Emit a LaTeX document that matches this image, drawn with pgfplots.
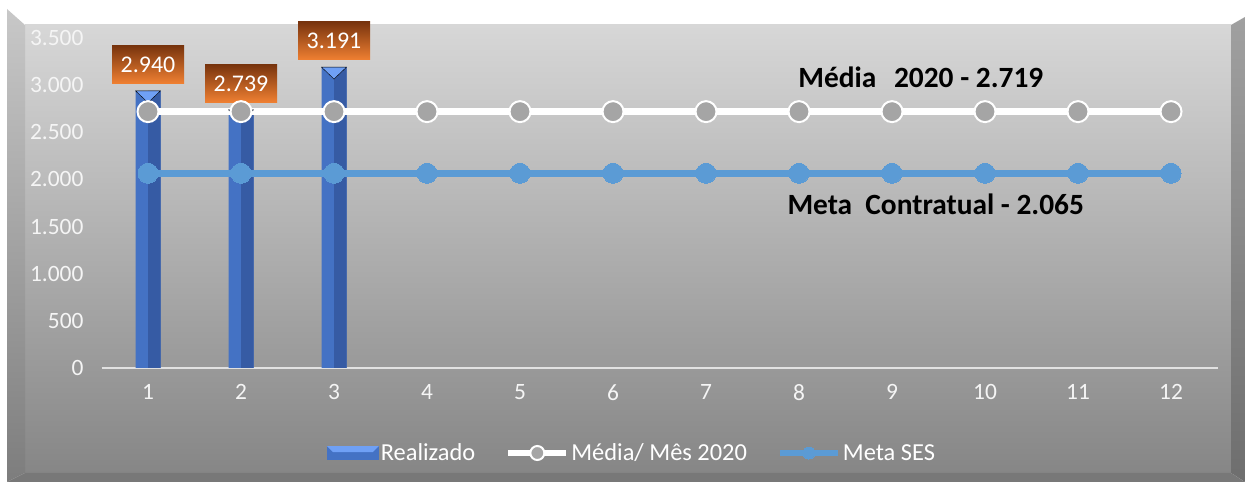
\documentclass[border=0pt]{standalone}
\usepackage{pgfplots}
\pgfplotsset{compat=1.18}
\usepackage{fontspec}
\setmainfont{Carlito}
\usetikzlibrary{shadings}
\definecolor{barL}{RGB}{68,114,196}
\definecolor{barR}{RGB}{54,91,164}
\definecolor{barTop}{RGB}{111,160,245}
\definecolor{metaC}{RGB}{91,155,213}
\definecolor{mediaM}{RGB}{165,165,165}
\definecolor{wallTop}{RGB}{215,215,215}
\definecolor{wallBot}{RGB}{134,134,134}
\definecolor{lwTop}{RGB}{200,200,200}
\definecolor{lwBot}{RGB}{125,125,125}
\definecolor{rwTop}{RGB}{160,160,160}
\definecolor{rwBot}{RGB}{110,110,110}
\definecolor{floorC}{RGB}{120,120,120}
\definecolor{orTop}{RGB}{120,52,14}
\definecolor{orMid}{RGB}{212,104,38}
\definecolor{orBot}{RGB}{240,128,50}
\definecolor{axisC}{RGB}{225,225,225}
\pgfplotsset{
  barlegend/.style={legend image code/.code={
    \fill[barL] (0bp,-7bp) rectangle (52bp,7bp);
    \fill[barTop] (0bp,7bp) -- (52bp,7bp) -- (46bp,1bp) -- (6bp,1bp) -- cycle;}},
  medialegend/.style={legend image code/.code={
    \draw[##1, mark size=7bp, line width=6bp, mark repeat=2, mark phase=2] plot coordinates {(0bp,0bp) (29bp,0bp) (58bp,0bp)};}},
  metalegend/.style={legend image code/.code={
    \draw[##1, mark size=6bp, line width=6bp, mark repeat=2, mark phase=2] plot coordinates {(0bp,0bp) (29bp,0bp) (58bp,0bp)};}},
}
\begin{document}
\begin{tikzpicture}[x=1bp,y=1bp]
% background 3D panel
\shade[top color=wallTop, bottom color=wallBot] (25,9) rectangle (1231,457);
\shade[top color=lwTop, bottom color=lwBot] (7,0) -- (7,473) -- (25,457) -- (25,9) -- cycle;
\shade[top color=rwTop, bottom color=rwBot] (1231,9) -- (1231,457) -- (1245,465) -- (1245,0) -- cycle;
\fill[floorC] (7,0) -- (25,9) -- (1231,9) -- (1245,0) -- cycle;
\begin{axis}[
  at={(101.5bp,114bp)}, anchor=south west,
  scale only axis, width=1116bp, height=330bp,
  xmin=0.5, xmax=12.5, ymin=0, ymax=3500,
  clip=false,
  axis lines*=left,
  y axis line style={draw=none},
  x axis line style={draw=axisC, line width=1.5bp, -},
  xtick={1,...,12},
  xtick style={draw=none},
  extra x ticks={0.5,1.5,...,12.5},
  extra x tick labels={},
  extra x tick style={tick align=outside, major tick length=6bp, tick style={draw=axisC, line width=1.5bp}},
  ytick={0,500,...,3500},
  ytick style={draw=none},
  scaled y ticks=false,
  /pgf/number format/.cd, 1000 sep={.}, assume math mode=true,
  /pgfplots/.cd,
  ticklabel style={font=\fontsize{23.5}{27}\selectfont, text={rgb,255:red,245;green,245;blue,245}},
  xticklabel style={yshift=-13bp},
  yticklabel style={xshift=-14.5bp},
  legend style={draw=none, fill=none, at={(axis description cs:0.4753,-0.2576)}, anchor=center,
    legend columns=3, font=\fontsize{24.5}{28}\selectfont, text=white,
    /tikz/every even column/.append style={column sep=28bp}},
  legend cell align=left,
]
\addplot[ybar, bar width=25bp, bar shift=0pt, fill=barL, draw=none,
  point meta=explicit symbolic, nodes near coords,
  every node near coord/.append style={anchor=south, yshift=7bp, text=white,
    font=\fontsize{24}{28}\selectfont, minimum width=72bp, minimum height=38bp, inner sep=0pt,
    top color=orTop, middle color=orMid, bottom color=orBot},
  barlegend
  ] coordinates {(1,2940) [2.940] (2,2739) [2.739] (3,3191) [3.191]};
\addlegendentry{Realizado}
\addplot[ybar, bar width=12.5bp, bar shift=6.25bp, fill=barR, draw=none, forget plot]
  coordinates {(1,2940) (2,2739) (3,3191)};
\addplot[only marks, mark=triangle*, mark size=14.4bp, forget plot,
  mark options={yshift=-4bp, yscale=0.55, rotate=180, fill=barTop, draw=none}]
  coordinates {(1,2940) (2,2739) (3,3191)};
\addplot[draw=white, line width=7bp, mark=*, mark size=10.5bp,
  mark options={fill=mediaM, draw=white, line width=2bp}, medialegend
  ] coordinates {(1,2719) (2,2719) (3,2719) (4,2719) (5,2719) (6,2719) (7,2719) (8,2719) (9,2719) (10,2719) (11,2719) (12,2719)};
\addlegendentry{Média/ Mês 2020}
\addplot[draw=metaC, line width=7bp, mark=*, mark size=10bp,
  mark options={fill=metaC, draw=metaC, line width=0pt}, metalegend
  ] coordinates {(1,2065) (2,2065) (3,2065) (4,2065) (5,2065) (6,2065) (7,2065) (8,2065) (9,2065) (10,2065) (11,2065) (12,2065)};
\addlegendentry{Meta SES}
\node[anchor=base, font=\fontsize{29.5}{33}\selectfont\bfseries, text=black, inner sep=0pt]
  at (axis cs:9.31,2980) {Média\hspace{0.6em}2020 - 2.719};
\node[anchor=base, font=\fontsize{29.5}{33}\selectfont\bfseries, text=black, inner sep=0pt]
  at (axis cs:9.47,1633) {Meta\hspace{0.45em}Contratual - 2.065};
\end{axis}
\pgfresetboundingbox
\useasboundingbox (0,0) rectangle (1245,482);
\end{tikzpicture}
\end{document}
